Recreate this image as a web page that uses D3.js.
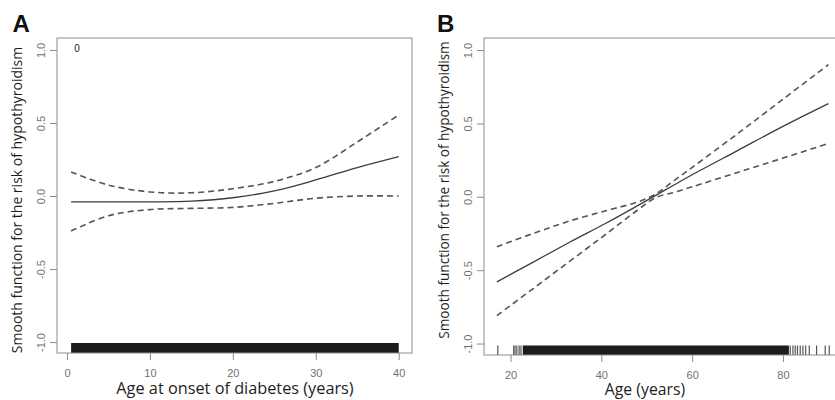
<!DOCTYPE html>
<html>
<head>
<meta charset="utf-8">
<script src="https://cdn.jsdelivr.net/npm/d3@7"></script>
<style>
  html, body { margin: 0; padding: 0; background: #fff; }
  svg { display: block; }
</style>
</head>
<body>
<svg id="chart" width="835" height="400"></svg>
<script>
// ---------- Data ----------
// Panel A: age at onset of diabetes
const onsetAge   = [0.5, 5, 10, 15, 20, 25, 30, 35, 40];
const fitA       = [-0.04, -0.04, -0.04, -0.035, -0.012, 0.035, 0.11, 0.195, 0.27];
const lowerA     = [-0.24, -0.135, -0.093, -0.085, -0.078, -0.05, -0.015, 0.0, 0.0];
const upperA     = [0.165, 0.075, 0.028, 0.022, 0.05, 0.10, 0.195, 0.37, 0.555];
const rugDenseA  = [0.5, 40];
const xTicksA    = [0, 10, 20, 30, 40];

// Panel B: age
const ageB       = [17, 25, 33, 41, 48, 52, 56, 60, 70, 80, 90];
const fitB       = [-0.58, -0.445, -0.31, -0.18, -0.06, 0.01, 0.08, 0.15, 0.315, 0.48, 0.635];
const lowerB     = [-0.81, -0.625, -0.44, -0.255, -0.09, -0.005, 0.03, 0.068, 0.166, 0.264, 0.363];
const upperB     = [-0.34, -0.25, -0.165, -0.095, -0.035, 0.02, 0.11, 0.20, 0.43, 0.665, 0.90];
const rugDenseB  = [22.7, 81.3];
const rugTicksB  = [17.2, 20.7, 21.0, 21.4, 21.9, 22.3, 81.6, 82.2, 82.7, 83.2, 83.8, 84.4, 85.0, 85.8, 87.4, 89.3, 90.2];
const xTicksB    = [20, 40, 60, 80];

const yTicks     = [-1, -0.5, 0, 0.5, 1];
const yTickLabels = ["-1.0", "-0.5", "0.0", "0.5", "1.0"];

const yTitle = "Smooth function for the risk of hypothyroidism";

// ---------- Drawing ----------
const svg = d3.select("#chart");
svg.append("rect").attr("width", 835).attr("height", 400).attr("fill", "#fff");

const AXIS_COL = "#8c8c8c";
const TICKLAB_COL = "#727272";
const TXT_COL = "#1e1e1e";

function panel(cfg) {
  const g = svg.append("g");
  const x = d3.scaleLinear().domain(cfg.xDomain).range([cfg.left, cfg.right]);
  const y = d3.scaleLinear().domain(cfg.yDomain).range([cfg.bottom, cfg.top]);

  // rug dense band
  g.append("rect")
    .attr("x", x(cfg.rugDense[0]))
    .attr("y", cfg.bottom - cfg.rugLen)
    .attr("width", x(cfg.rugDense[1]) - x(cfg.rugDense[0]))
    .attr("height", cfg.rugLen)
    .attr("fill", "#1c1c1c");
  g.selectAll("line.rug").data(cfg.rugTicks).enter().append("line")
    .attr("class", "rug")
    .attr("x1", d => x(d)).attr("x2", d => x(d))
    .attr("y1", cfg.bottom - cfg.rugLen).attr("y2", cfg.bottom)
    .attr("stroke", "#555").attr("stroke-width", 1.2);

  // lines
  const mk = (vals) => cfg.xs.map((xv, i) => [xv, vals[i]]);
  const line = d3.line().x(d => x(d[0])).y(d => y(d[1])).curve(d3.curveCatmullRom.alpha(0.5));
  g.append("path").attr("d", line(mk(cfg.upper)))
    .attr("fill", "none").attr("stroke", "#555").attr("stroke-width", 1.6)
    .attr("stroke-dasharray", "6,4");
  g.append("path").attr("d", line(mk(cfg.lower)))
    .attr("fill", "none").attr("stroke", "#555").attr("stroke-width", 1.6)
    .attr("stroke-dasharray", "6,4");
  g.append("path").attr("d", line(mk(cfg.fit)))
    .attr("fill", "none").attr("stroke", "#3c3c3c").attr("stroke-width", 1.3);

  // box
  g.append("rect")
    .attr("x", cfg.left).attr("y", cfg.top)
    .attr("width", cfg.right - cfg.left).attr("height", cfg.bottom - cfg.top)
    .attr("fill", "none").attr("stroke", AXIS_COL).attr("stroke-width", 1);

  // x axis
  const xa = g.append("g").attr("transform", `translate(0,${cfg.bottom})`)
    .call(d3.axisBottom(x).tickValues(cfg.xTicks).tickSize(7).tickPadding(0).tickFormat(d3.format("d")));
  xa.select(".domain").remove();
  xa.selectAll(".tick line").attr("stroke", AXIS_COL);
  xa.selectAll(".tick text")
    .attr("y", cfg.xLabBase - cfg.bottom).attr("dy", 0)
    .attr("fill", TICKLAB_COL)
    .style("font-family", "'Liberation Sans', Arial, sans-serif")
    .style("font-size", "11px");

  // y axis
  const ya = g.append("g").attr("transform", `translate(${cfg.left},0)`)
    .call(d3.axisLeft(y).tickValues(yTicks).tickSize(7).tickFormat((d, i) => yTickLabels[i]));
  ya.select(".domain").remove();
  ya.selectAll(".tick line").attr("stroke", AXIS_COL);
  ya.selectAll(".tick text")
    .attr("transform", "rotate(-90)")
    .attr("x", 0).attr("y", -12).attr("dy", 0)
    .attr("text-anchor", "middle")
    .attr("fill", TICKLAB_COL)
    .style("font-family", "'Liberation Sans', Arial, sans-serif")
    .style("font-size", "11px");

  // y title
  g.append("text")
    .attr("transform", `translate(${cfg.yTitleX},${cfg.yTitleY}) rotate(-90)`)
    .attr("text-anchor", "middle")
    .attr("fill", TXT_COL)
    .style("font-family", "'Open Sans', sans-serif")
    .style("font-size", cfg.yTitleSize + "px")
    .text(yTitle);

  // x title
  g.append("text")
    .attr("x", cfg.xTitleX).attr("y", cfg.xTitleY)
    .attr("text-anchor", "middle")
    .attr("fill", TXT_COL)
    .style("font-family", "'Open Sans', sans-serif")
    .style("font-size", cfg.xTitleSize + "px")
    .text(cfg.xTitle);

  // panel letter
  g.append("text")
    .attr("x", cfg.letterX).attr("y", 32)
    .attr("fill", "#111")
    .style("font-family", "'Liberation Sans', Arial, sans-serif")
    .style("font-weight", "bold")
    .style("font-size", "24px")
    .text(cfg.letter);

  return { g, x, y };
}

const A = panel({
  left: 57, right: 412, top: 38, bottom: 353,
  xDomain: [-1.2, 41.6], yDomain: [-1.075, 1.082],
  xs: onsetAge, fit: fitA, lower: lowerA, upper: upperA,
  rugDense: rugDenseA, rugTicks: [], rugLen: 10,
  xTicks: xTicksA, xLabBase: 377,
  yTitleX: 22, yTitleY: 200, yTitleSize: 14,
  xTitle: "Age at onset of diabetes (years)", xTitleX: 235, xTitleY: 394, xTitleSize: 16.3,
  letter: "A", letterX: 12.5
});
A.g.append("text")
  .attr("x", A.x(1.2)).attr("y", 52)
  .attr("text-anchor", "middle")
  .attr("fill", "#222")
  .style("font-family", "'Liberation Sans', Arial, sans-serif")
  .style("font-size", "10px")
  .text("0");

panel({
  left: 484, right: 842, top: 38, bottom: 355,
  xDomain: [14.16, 93.0], yDomain: [-1.078, 1.082],
  xs: ageB, fit: fitB, lower: lowerB, upper: upperB,
  rugDense: rugDenseB, rugTicks: rugTicksB, rugLen: 9.5,
  xTicks: xTicksB, xLabBase: 379,
  yTitleX: 449, yTitleY: 190, yTitleSize: 13.6,
  xTitle: "Age (years)", xTitleX: 645, xTitleY: 395, xTitleSize: 15.8,
  letter: "B", letterX: 437
});
</script>
</body>
</html>
